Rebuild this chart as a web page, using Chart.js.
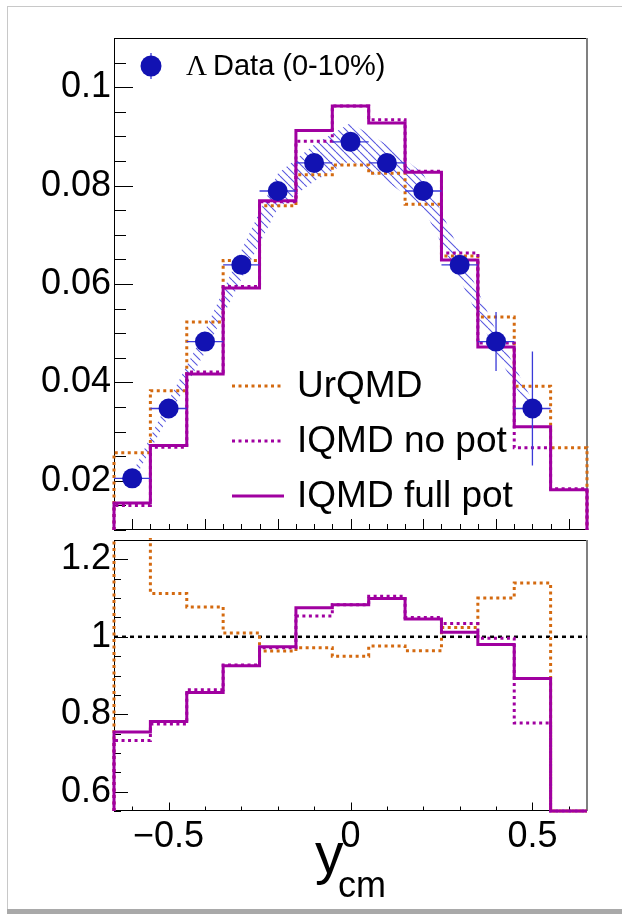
<!DOCTYPE html>
<html>
<head>
<meta charset="utf-8">
<script src="https://cdn.jsdelivr.net/npm/chart.js@4.4.1/dist/chart.umd.min.js"></script>
<style>
  html, body { margin: 0; padding: 0; background: #fff; }
  #page { position: relative; width: 622px; height: 914px; overflow: hidden; background: #fff; }
  #top { position: absolute; left: 0; top: 0; }
  #bottom { position: absolute; left: 0; top: 538px; }
  .edge { position: absolute; background: #c8c8c8; }
</style>
</head>
<body>
<div id="page">
  <canvas id="top" width="622" height="540"></canvas>
  <canvas id="bottom" width="622" height="376"></canvas>
  <div class="edge" style="left:7px;top:6px;width:1px;height:904px"></div>
  <div class="edge" style="left:7px;top:6px;width:615px;height:1px"></div>
  <div class="edge" style="left:7px;top:909px;width:615px;height:5px;background:#a9a9a9"></div>
</div>
<script>
// bins of the histograms (centre, width 0.1)
const binCenters = [-0.6, -0.5, -0.4, -0.3, -0.2, -0.1, 0, 0.1, 0.2, 0.3, 0.4, 0.5, 0.6];
const binWidth = 0.1;

// Lambda data (0-10%)
const dataX = [-0.6, -0.5, -0.4, -0.3, -0.2, -0.1, 0, 0.1, 0.2, 0.3, 0.4, 0.5];
const dataY = [0.0205, 0.0347, 0.0483, 0.0639, 0.0789, 0.0846, 0.0889, 0.0846, 0.0789, 0.0639, 0.0483, 0.0347];
const statErr = [0.0004, 0.0005, 0.0006, 0.0007, 0.0008, 0.0008, 0.0008, 0.0008, 0.0008, 0.0009, 0.0060, 0.0116];
const systErr = [0.0010, 0.0016, 0.0022, 0.0029, 0.0035, 0.0037, 0.0038, 0.0037, 0.0035, 0.0029, 0.0022, 0.0016];

// models
const urqmd = [0.0257, 0.0383, 0.0523, 0.0648, 0.0759, 0.0822, 0.0842, 0.0825, 0.0762, 0.0657, 0.0533, 0.0392, 0.0267];
const iqmdNoPot = [0.0150, 0.0268, 0.0421, 0.0595, 0.0767, 0.0890, 0.0962, 0.0934, 0.0829, 0.0663, 0.0480, 0.0267, 0.0184];
const iqmdFull = [0.0155, 0.0272, 0.0417, 0.0592, 0.0769, 0.0912, 0.0962, 0.0927, 0.0827, 0.0649, 0.0472, 0.0310, 0.0182];

// model / data
const ratioUrqmd = [1.26, 1.112, 1.077, 1.010, 0.963, 0.972, 0.950, 0.976, 0.964, 1.024, 1.100, 1.139, 0];
const ratioNoPot = [0.732, 0.775, 0.863, 0.927, 0.972, 1.054, 1.083, 1.105, 1.050, 1.034, 0.996, 0.777, 0];
const ratioFull = [0.754, 0.781, 0.856, 0.925, 0.974, 1.075, 1.083, 1.099, 1.046, 1.012, 0.980, 0.892, 0];

// axes
const topYTicks = [0.02, 0.04, 0.06, 0.08, 0.1];
const bottomYTicks = [0.6, 0.8, 1, 1.2];
const bottomXTicks = [-0.5, 0, 0.5];
const X_MIN = -0.65, X_MAX = 0.65;
const TOP_Y = [0.01, 0.11];
const BOT_Y = [0.55, 1.25];

const ORANGE = '#d46a10';
const PURPLE = '#a000a0';
const BLUE = '#1212b2';

Chart.defaults.font.family = "'Liberation Sans', Arial, sans-serif";
Chart.defaults.color = '#000';

function range(a, b, step) {
  const out = [];
  for (let v = a; v <= b + 1e-9; v += step) out.push(+v.toFixed(4));
  return out;
}

// histogram outline like ROOT: up from the floor, along the bins, down again
// (values under the floor sit on it, values over the top are clipped away)
function histPoints(values, lo) {
  const pts = [{ x: binCenters[0] - binWidth / 2, y: lo }];
  values.forEach((v, i) => {
    const y = Math.max(v, lo);
    pts.push({ x: binCenters[i] - binWidth / 2, y }, { x: binCenters[i] + binWidth / 2, y });
  });
  pts.push({ x: binCenters[binCenters.length - 1] + binWidth / 2, y: lo });
  return pts;
}

function hatchPattern() {
  const c = document.createElement('canvas');
  c.width = 8; c.height = 8;
  const g = c.getContext('2d');
  g.strokeStyle = 'rgba(45,45,215,0.8)';
  g.lineWidth = 1.1;
  [-8, 0, 8].forEach(k => { g.beginPath(); g.moveTo(k, 0); g.lineTo(k + 8, 8); g.stroke(); });
  return g.createPattern(c, 'repeat');
}

function histDataset(values, lo, color, dash, order) {
  return {
    data: histPoints(values, lo),
    borderColor: color, borderWidth: 3, borderDash: dash,
    pointRadius: 0, fill: false, tension: 0, order: order, clip: 2
  };
}

function isMajor(list, v) { return list.some(m => Math.abs(m - v) < 1e-6); }

// ROOT style ticks pointing into the frame, plus the frame itself
function drawFrame(chart, t) {
  const { ctx, chartArea: a, scales } = chart;
  ctx.save();
  ctx.strokeStyle = '#000';
  ctx.lineWidth = 1;
  t.yAll.forEach(v => {
    const py = Math.round(scales.y.getPixelForValue(v)) + 0.5;
    const len = isMajor(t.yMajor, v) ? t.yLen[0] : t.yLen[1];
    ctx.beginPath(); ctx.moveTo(a.left, py); ctx.lineTo(a.left + len, py); ctx.stroke();
  });
  t.xAll.forEach(v => {
    const px = Math.round(scales.x.getPixelForValue(v)) + 0.5;
    const len = isMajor(t.xMajor, v) ? t.xLen[0] : t.xLen[1];
    ctx.beginPath(); ctx.moveTo(px, a.bottom); ctx.lineTo(px, a.bottom - len); ctx.stroke();
  });
  ctx.beginPath();
  ctx.moveTo(a.right, a.top + 0.5); ctx.lineTo(a.left + 0.5, a.top + 0.5);
  ctx.lineTo(a.left + 0.5, a.bottom - 0.5); ctx.lineTo(a.right, a.bottom - 0.5);
  ctx.stroke();
  ctx.strokeStyle = '#808080';
  ctx.lineWidth = 2;
  ctx.beginPath(); ctx.moveTo(a.right, a.top); ctx.lineTo(a.right, a.bottom); ctx.stroke();
  ctx.restore();
}

const topPlugin = {
  id: 'topPad',
  beforeDatasetsDraw(chart) {
    drawFrame(chart, {
      yAll: range(0.01, 0.11, 0.005), yMajor: topYTicks, yLen: [19, 12],
      xAll: range(-0.6, 0.6, 0.05), xMajor: range(-0.6, 0.6, 0.2), xLen: [11, 6]
    });
  },
  beforeDatasetDraw(chart, args) {
    if (chart.data.datasets[args.index].label !== 'points') return;
    const { ctx, chartArea: a, scales: { x, y } } = chart;
    ctx.save();
    ctx.beginPath(); ctx.rect(a.left, a.top, a.right - a.left, a.bottom - a.top); ctx.clip();
    ctx.strokeStyle = '#3a3ad8';
    ctx.lineWidth = 1.3;
    dataX.forEach((dx, i) => {
      const px = x.getPixelForValue(dx), py = y.getPixelForValue(dataY[i]);
      ctx.beginPath();
      ctx.moveTo(x.getPixelForValue(dx - binWidth / 2), py);
      ctx.lineTo(x.getPixelForValue(dx + binWidth / 2), py);
      ctx.moveTo(px, y.getPixelForValue(dataY[i] + statErr[i]));
      ctx.lineTo(px, y.getPixelForValue(dataY[i] - statErr[i]));
      ctx.stroke();
    });
    ctx.restore();
  },
  afterDraw(chart) {
    const ctx = chart.ctx;
    ctx.save();
    // data legend
    ctx.strokeStyle = '#3a3ad8'; ctx.lineWidth = 1.3;
    ctx.beginPath(); ctx.moveTo(151, 53); ctx.lineTo(151, 79); ctx.stroke();
    ctx.fillStyle = BLUE;
    ctx.beginPath(); ctx.arc(151, 66, 10.5, 0, Math.PI * 2); ctx.fill();
    ctx.fillStyle = '#000';
    ctx.textBaseline = 'alphabetic';
    ctx.font = "29px 'Liberation Serif', serif";
    ctx.fillText('\u039B', 186, 75);
    ctx.font = "29px 'Liberation Sans', Arial, sans-serif";
    ctx.fillText('Data (0-10%)', 213, 75);
    // model legend
    const rows = [
      ['UrQMD', ORANGE, [3, 3.5]],
      ['IQMD no pot', PURPLE, [3, 3.5]],
      ['IQMD full pot', PURPLE, []]
    ];
    rows.forEach((r, i) => {
      const ly = 386 + i * 55;
      ctx.strokeStyle = r[1]; ctx.lineWidth = 3; ctx.setLineDash(r[2]);
      ctx.beginPath(); ctx.moveTo(232, ly); ctx.lineTo(284, ly); ctx.stroke();
      ctx.setLineDash([]);
      ctx.font = "37px 'Liberation Sans', Arial, sans-serif";
      ctx.fillText(r[0], 297, ly + 11);
    });
    ctx.restore();
  }
};

const bottomPlugin = {
  id: 'bottomPad',
  beforeDatasetsDraw(chart) {
    drawFrame(chart, {
      yAll: range(0.55, 1.25, 0.05), yMajor: bottomYTicks, yLen: [14, 7],
      xAll: range(-0.6, 0.6, 0.1), xMajor: bottomXTicks, xLen: [8.5, 4.5]
    });
  },
  afterDraw(chart) {
    const ctx = chart.ctx;
    ctx.save();
    ctx.fillStyle = '#000';
    ctx.textBaseline = 'alphabetic';
    ctx.font = "57px 'Liberation Sans', Arial, sans-serif";
    ctx.fillText('y', 315, 335);
    ctx.font = "36px 'Liberation Sans', Arial, sans-serif";
    ctx.fillText('cm', 338, 359);
    ctx.restore();
  }
};

function yScale(lim, ticks) {
  return {
    type: 'linear', min: lim[0], max: lim[1],
    grid: { display: false, drawTicks: false }, border: { display: false },
    afterBuildTicks: s => { s.ticks = ticks.map(v => ({ value: v })); },
    ticks: { font: { size: 36 }, padding: 3, callback: v => String(v) },
    afterFit: s => { s.width = 114; s.paddingTop = 0; s.paddingBottom = 0; }
  };
}

const hatch = hatchPattern();

new Chart(document.getElementById('top'), {
  type: 'line',
  data: {
    datasets: [
      {
        label: 'band', data: dataX.map((x, i) => ({ x, y: dataY[i] + systErr[i] })),
        borderWidth: 0, pointRadius: 0, backgroundColor: hatch, fill: '+1', tension: 0, order: 6
      },
      {
        label: 'band-low', data: dataX.map((x, i) => ({ x, y: dataY[i] - systErr[i] })),
        borderWidth: 0, pointRadius: 0, fill: false, tension: 0, order: 6
      },
      Object.assign({ label: 'UrQMD' }, histDataset(urqmd, TOP_Y[0], ORANGE, [3, 3.5], 4)),
      Object.assign({ label: 'IQMD no pot' }, histDataset(iqmdNoPot, TOP_Y[0], PURPLE, [3, 3.5], 3)),
      Object.assign({ label: 'IQMD full pot' }, histDataset(iqmdFull, TOP_Y[0], PURPLE, [], 2)),
      {
        label: 'points', data: dataX.map((x, i) => ({ x, y: dataY[i] })),
        showLine: false, pointRadius: 10, pointHoverRadius: 10, pointBorderWidth: 0,
        pointBackgroundColor: BLUE, pointBorderColor: BLUE, order: 1
      }
    ]
  },
  options: {
    responsive: false, animation: false, events: [],
    layout: { padding: { top: 38, right: 35, bottom: 2, left: 0 } },
    plugins: { legend: { display: false }, tooltip: { enabled: false } },
    scales: {
      x: { type: 'linear', min: X_MIN, max: X_MAX, display: false },
      y: yScale(TOP_Y, topYTicks)
    }
  },
  plugins: [topPlugin]
});

new Chart(document.getElementById('bottom'), {
  type: 'line',
  data: {
    datasets: [
      {
        label: 'unity', data: [{ x: X_MIN, y: 1 }, { x: X_MAX, y: 1 }],
        borderColor: '#000', borderWidth: 2.5, borderDash: [4, 4], pointRadius: 0, order: 5
      },
      Object.assign({ label: 'UrQMD' }, histDataset(ratioUrqmd, BOT_Y[0], ORANGE, [3, 3.5], 4)),
      Object.assign({ label: 'IQMD no pot' }, histDataset(ratioNoPot, BOT_Y[0], PURPLE, [3, 3.5], 3)),
      Object.assign({ label: 'IQMD full pot' }, histDataset(ratioFull, BOT_Y[0], PURPLE, [], 2))
    ]
  },
  options: {
    responsive: false, animation: false, events: [],
    layout: { padding: { top: 2, right: 35, bottom: 0, left: 0 } },
    plugins: { legend: { display: false }, tooltip: { enabled: false } },
    scales: {
      x: {
        type: 'linear', min: X_MIN, max: X_MAX,
        grid: { display: false, drawTicks: false }, border: { display: false },
        afterBuildTicks: s => { s.ticks = bottomXTicks.map(v => ({ value: v })); },
        ticks: {
          font: { size: 36 }, padding: 4, maxRotation: 0, autoSkip: false,
          callback: v => (v < 0 ? '\u2212' + Math.abs(v) : String(v))
        },
        afterFit: s => { s.height = 103; s.paddingLeft = 0; s.paddingRight = 0; }
      },
      y: yScale(BOT_Y, bottomYTicks)
    }
  },
  plugins: [bottomPlugin]
});
</script>
</body>
</html>
